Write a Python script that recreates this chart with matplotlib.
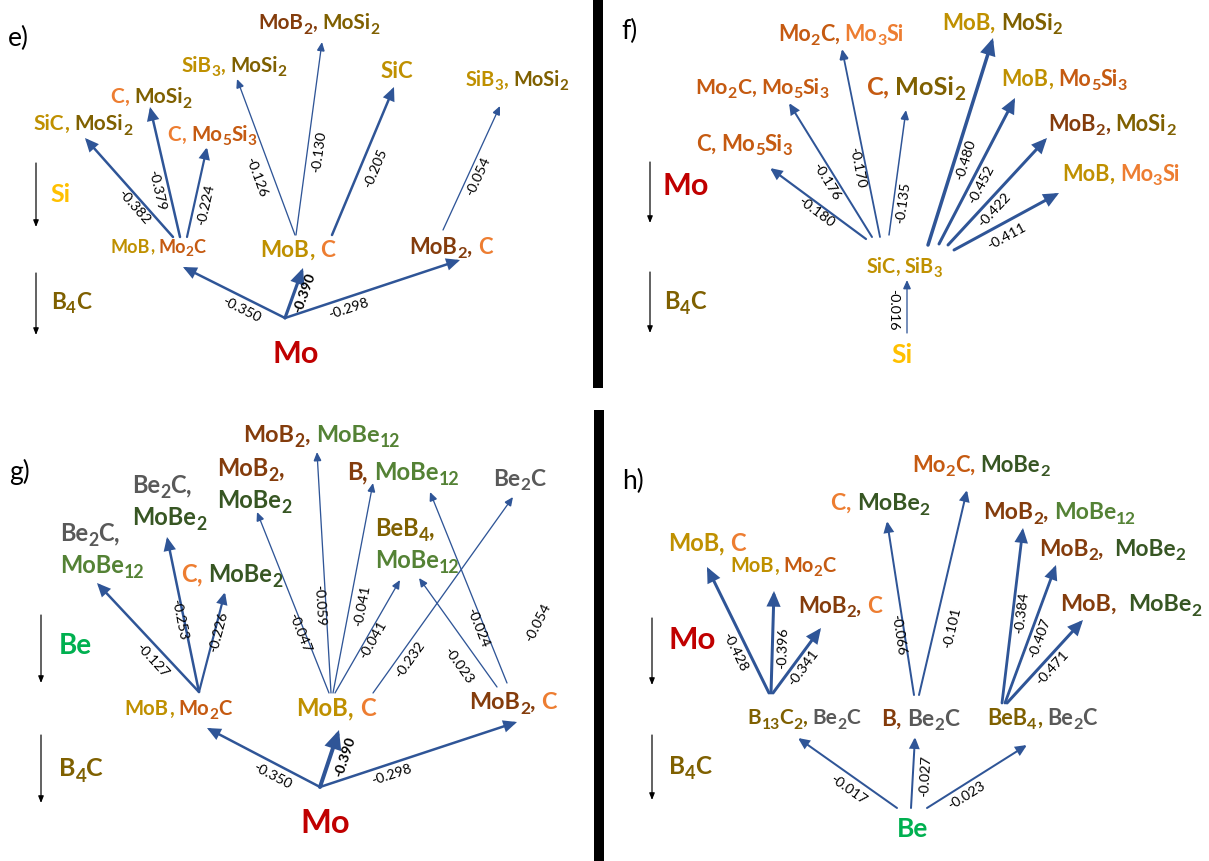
import re
import math
import matplotlib
matplotlib.use("Agg")
import matplotlib.pyplot as plt
from matplotlib.patches import Rectangle
from matplotlib.font_manager import FontProperties, findfont, get_font

plt.rcParams["font.family"] = ["Lato", "DejaVu Sans"]

# ---------------- reaction energies (eV/atom) ----------------
E_DG = [-0.350, -0.390, -0.298, -0.382, -0.379, -0.224, -0.126, -0.130, -0.205, -0.054]
F_DG = [-0.016, -0.180, -0.176, -0.170, -0.135, -0.480, -0.452, -0.422, -0.411]
G_DG = [-0.350, -0.390, -0.298, -0.127, -0.253, -0.226, -0.047, -0.059, -0.041, -0.041,
        -0.232, -0.023, -0.024]
G_EXTRA_DG = [-0.054]
H_DG = [-0.017, -0.027, -0.023, -0.428, -0.396, -0.341, -0.066, -0.101, -0.384, -0.407, -0.471]

# ---------------- colours ----------------
ARROW = "#2F5597"
MO_RED = "#C00000"
SI_YEL = "#FFC000"
BE_GRN = "#00B050"
GOLD = "#BF9000"
OLIVE = "#7F6000"
ORANGE = "#ED7D31"
ORANGE_DK = "#C55A11"
BROWN = "#843C0C"
GRAY = "#595959"
GREEN = "#548235"
GREEN_DK = "#375623"

# ---------------- layout (pixel coordinates) ----------------
E_FROM = [(285, 318), (285, 318), (285, 318), (173, 237), (180, 237), (187, 237),
          (295, 235), (296, 235), (332, 235), (443, 230)]
E_TO = [(183, 267), (303, 268), (460, 260), (85, 138), (150, 107), (207, 147),
        (237, 79), (322, 42), (394, 87), (500, 106)]
E_NUM = [(241, 310), (305, 293), (349, 309), (134, 207), (157, 190), (206, 205),
         (256, 177), (319, 152), (375, 168), (478, 176)]
E_LW = [2.5, 3.2, 2.5, 2.5, 2.5, 2.2, 1.3, 1.3, 2.5, 1.3]
E_BOLD = [1]

F_FROM = [(907, 333), (866, 239), (872, 237), (880, 237), (889, 235), (928, 245),
          (939, 244), (948, 245), (954, 250)]
F_TO = [(907, 280), (770, 168), (789, 103), (842, 49), (906, 110), (993, 38),
        (1015, 98), (1047, 138), (1059, 193)]
F_NUM = [(893, 310), (816, 212), (826, 182), (857, 168), (903, 203), (966, 160),
         (981, 185), (994, 210), (1007, 236)]
F_LW = [1.3, 2.2, 2.0, 1.8, 1.5, 3.5, 3.0, 3.0, 3.0]

G_FROM = [(320, 787), (320, 787), (320, 787), (199, 692), (199, 692), (199, 692),
          (329, 693), (331, 693), (333, 693), (335, 693), (373, 693), (497, 687), (507, 683)]
G_TO = [(207, 728), (339, 730), (517, 722), (97, 583), (167, 537), (225, 592),
        (257, 512), (317, 452), (373, 483), (400, 580), (513, 497), (419, 578), (430, 492)]
G_NUM = [(272, 776), (345, 757), (392, 775), (152, 660), (179, 620), (218, 632),
         (300, 633), (319, 605), (362, 606), (373, 640), (410, 660), (458, 665), (478, 628)]
G_LW = [2.5, 4.0, 2.5, 2.5, 2.5, 2.2, 1.3, 1.3, 1.3, 1.3, 1.3, 1.3, 1.3]
G_BOLD = [1]
G_EXTRA_NUM = [(538, 623)]
G_EXTRA_ROT = [63]

H_FROM = [(897, 808), (911, 808), (927, 808), (769, 693), (771, 693), (773, 693),
          (914, 695), (919, 695), (1002, 703), (1005, 703), (1007, 703)]
H_TO = [(798, 738), (915, 737), (1027, 745), (707, 567), (774, 591), (821, 628),
        (887, 521), (967, 490), (1023, 528), (1056, 565), (1083, 620)]
H_NUM = [(848, 790), (925, 776), (966, 796), (735, 652), (783, 648), (803, 668),
         (898, 635), (952, 628), (1022, 613), (1040, 638), (1052, 668)]
H_LW = [2.0, 2.0, 2.0, 3.0, 3.0, 3.0, 2.0, 2.0, 2.8, 2.8, 3.0]

# phase labels: (x, y, font size, lines of (formula, colour), left aligned?, gap width)
SPECIES = [
    # panel e
    (158, 248, 13.0, [[("MoB", GOLD), ("Mo2C", ORANGE_DK)]], False, 1),
    (298, 251, 16.2, [[("MoB", GOLD), ("C", ORANGE)]], False, 1),
    (451, 248, 15.8, [[("MoB2", BROWN), ("C", ORANGE)]], False, 1),
    (83, 125, 15.0, [[("SiC", GOLD), ("MoSi2", OLIVE)]], False, 1),
    (151, 98, 15.0, [[("C", ORANGE), ("MoSi2", OLIVE)]], False, 1),
    (212, 136, 14.8, [[("C", ORANGE), ("Mo5Si3", ORANGE_DK)]], False, 1),
    (234, 67, 14.8, [[("SiB3", GOLD), ("MoSi2", OLIVE)]], False, 1),
    (319, 24, 14.9, [[("MoB2", BROWN), ("MoSi2", OLIVE)]], False, 1),
    (397, 72, 16, [[("SiC", GOLD)]], False, 1),
    (517, 81, 14.4, [[("SiB3", GOLD), ("MoSi2", OLIVE)]], False, 1),
    # panel f
    (904, 268, 14.2, [[("SiC", GOLD), ("SiB3", GOLD)]], False, 1),
    (744, 145, 16.0, [[("C", ORANGE_DK), ("Mo5Si3", ORANGE_DK)]], False, 1),
    (762, 88, 15.3, [[("Mo2C", ORANGE_DK), ("Mo5Si3", ORANGE_DK)]], False, 1),
    (841, 35, 15.5, [[("Mo2C", ORANGE_DK), ("Mo3Si", ORANGE)]], False, 1),
    (916, 88, 18.3, [[("C", ORANGE_DK), ("MoSi2", OLIVE)]], False, 1),
    (1002, 24, 16.0, [[("MoB", GOLD), ("MoSi2", OLIVE)]], False, 1),
    (1064, 80, 15.5, [[("MoB", GOLD), ("Mo5Si3", ORANGE_DK)]], False, 1),
    (1112, 125, 15.7, [[("MoB2", BROWN), ("MoSi2", OLIVE)]], False, 1),
    (1121, 175, 15.7, [[("MoB", GOLD), ("Mo3Si", ORANGE)]], False, 1),
    # panel g
    (178, 710, 14.6, [[("MoB", GOLD), ("Mo2C", ORANGE_DK)]], False, 1),
    (336, 710, 17.2, [[("MoB", GOLD), ("C", ORANGE)]], False, 1),
    (513, 703, 16.8, [[("MoB2", BROWN), ("C", ORANGE)]], False, 1),
    (60, 551, 17.0, [[("Be2C", GRAY)], [("MoBe12", GREEN)]], True, 1),
    (132, 503, 17.0, [[("Be2C", GRAY)], [("MoBe2", GREEN_DK)]], True, 1),
    (232, 576, 17.0, [[("C", ORANGE), ("MoBe2", GREEN_DK)]], False, 1),
    (217, 486, 17.0, [[("MoB2", BROWN)], [("MoBe2", GREEN_DK)]], True, 1),
    (322, 436, 16.9, [[("MoB2", BROWN), ("MoBe12", GREEN)]], False, 1),
    (403, 474, 17.2, [[("B", BROWN), ("MoBe12", GREEN)]], False, 1),
    (375, 546, 17.0, [[("BeB4", OLIVE)], [("MoBe12", GREEN)]], True, 1),
    (519, 480, 16.4, [[("Be2C", GRAY)]], False, 1),
    # panel h
    (804, 719, 15.0, [[("B13C2", OLIVE), ("Be2C", GRAY)]], False, 1),
    (920, 720, 16.3, [[("B", BROWN), ("Be2C", GRAY)]], False, 1),
    (1042, 719, 15.6, [[("BeB4", OLIVE), ("Be2C", GRAY)]], False, 1),
    (707, 545, 17, [[("MoB", GOLD), ("C", ORANGE)]], False, 1),
    (783, 567, 14.4, [[("MoB", GOLD), ("Mo2C", ORANGE_DK)]], False, 1),
    (840, 607, 16.1, [[("MoB2", BROWN), ("C", ORANGE)]], False, 1),
    (880, 504, 16.7, [[("C", ORANGE), ("MoBe2", GREEN_DK)]], False, 1),
    (981, 466, 15.8, [[("Mo2C", ORANGE_DK), ("MoBe2", GREEN_DK)]], False, 1),
    (1060, 513, 16.5, [[("MoB2", BROWN), ("MoBe12", GREEN)]], False, 1),
    (1112, 550, 16.3, [[("MoB2", BROWN), ("MoBe2", GREEN_DK)]], False, 2),
    (1131, 605, 16.8, [[("MoB", BROWN), ("MoBe2", GREEN_DK)]], False, 2),
]

# starting elements and side reactant arrows
ELEMENTS = [("Mo", 296, 355, 22, MO_RED), ("Si", 902, 356, 19, SI_YEL),
            ("Mo", 325, 825, 23.5, MO_RED), ("Be", 913, 830, 19, BE_GRN)]
SIDE = [  # (label, colour, label x, label y, size, arrow x, arrow top, arrow bottom)
    ("Si", SI_YEL, 61, 195, 18, 36, 163, 227),
    ("B4C", OLIVE, 71, 303, 16.3, 36, 273, 335),
    ("Mo", MO_RED, 686, 187, 22, 650, 162, 223),
    ("B4C", OLIVE, 685, 303, 17, 650, 272, 333),
    ("Be", BE_GRN, 75, 647, 20, 41, 615, 683),
    ("B4C", OLIVE, 81, 770, 18, 41, 735, 803),
    ("Mo", MO_RED, 692, 641, 22.5, 652, 618, 685),
    ("B4C", OLIVE, 690, 768, 17.5, 652, 735, 800),
]
PANEL_TAGS = [("e)", 18, 38), ("f)", 630, 31), ("g)", 20, 472), ("h)", 633, 481)]

W, H = 1209, 861
DPI = 100
PX = 72 / DPI  # points per pixel
SUB_SCALE = 0.75   # subscript size relative to the formula
SUB_DROP = 0.20    # subscript baseline shift, in em
LINE_GAP = 1.34    # baseline distance of stacked formula lines, in em

fig = plt.figure(figsize=(W / DPI, H / DPI), dpi=DPI)
ax = fig.add_axes([0, 0, 1, 1])
ax.set_xlim(0, W)
ax.set_ylim(H, 0)
ax.axis("off")

# panel separators
ax.add_patch(Rectangle((593, 0), 10, 388, color="black", lw=0))
ax.add_patch(Rectangle((594, 410), 10, H - 410, color="black", lw=0))

BOLD_FILE = findfont(FontProperties(family="Lato", weight="bold"))


def advance(s, size):
    """Horizontal advance of a bold string, in pixels."""
    font = get_font(BOLD_FILE)
    font.set_size(size, DPI)
    return sum(font.load_char(ord(c)).linearHoriAdvance / 65536 for c in s)


def split_formula(name):
    return [(m.group(0), m.group(0).isdigit()) for m in re.finditer(r"\d+|\D+", name)]


def draw_runs(x, baseline, runs, size):
    em = size / PX
    for text, col, sub in runs:
        fs = size * SUB_SCALE if sub else size
        if text.strip():
            ax.text(x, baseline + (SUB_DROP * em if sub else 0), text, ha="left",
                    va="baseline", fontsize=fs, fontweight="bold", family="Lato", color=col)
        x += advance(text, fs)


def runs_width(runs, size):
    return sum(advance(t, size * SUB_SCALE if s else size) for t, _, s in runs)


def species(x, y, size, lines, left, nspace):
    em = size / PX
    all_runs = []
    for i, line in enumerate(lines):
        runs = []
        for j, (name, col) in enumerate(line):
            if j > 0:
                runs.append((" " * nspace, col, False))
            runs += [(t, col, s) for t, s in split_formula(name)]
            if not (i == len(lines) - 1 and j == len(line) - 1):
                runs.append((",", col, False))
        all_runs.append(runs)
    n = len(all_runs)
    first_base = y + 0.26 * em - 0.5 * (n - 1) * LINE_GAP * em
    for k, runs in enumerate(all_runs):
        x0 = x if left else x - runs_width(runs, size) / 2
        draw_runs(x0, first_base + k * LINE_GAP * em, runs, size)


def arrow(p0, p1, lw_px, color=ARROW):
    ms = 6 + 2.6 * lw_px
    ax.annotate("", xy=p1, xytext=p0,
                arrowprops=dict(arrowstyle="-|>,head_length=0.55,head_width=0.25",
                                lw=lw_px * PX, color=color, shrinkA=0, shrinkB=0,
                                mutation_scale=ms, joinstyle="miter"))


def readable_angle(p0, p1):
    ang = math.degrees(math.atan2(-(p1[1] - p0[1]), p1[0] - p0[0]))
    if ang >= 90:
        ang -= 180
    elif ang < -90:
        ang += 180
    return ang


def reactions(dg, starts, ends, nums, widths, bold=()):
    for i, v in enumerate(dg):
        arrow(starts[i], ends[i], widths[i])
        ax.text(nums[i][0], nums[i][1], f"{v:.3f}", rotation=readable_angle(starts[i], ends[i]),
                rotation_mode="anchor", ha="center", va="center", fontsize=10.3,
                family="Lato", fontweight="bold" if i in bold else "normal", color="black")


reactions(E_DG, E_FROM, E_TO, E_NUM, E_LW, E_BOLD)
reactions(F_DG, F_FROM, F_TO, F_NUM, F_LW)
reactions(G_DG, G_FROM, G_TO, G_NUM, G_LW, G_BOLD)
reactions(H_DG, H_FROM, H_TO, H_NUM, H_LW)
for v, (x, y), r in zip(G_EXTRA_DG, G_EXTRA_NUM, G_EXTRA_ROT):
    ax.text(x, y, f"{v:.3f}", rotation=r, rotation_mode="anchor", ha="center",
            va="center", fontsize=10.3, family="Lato")

for sp in SPECIES:
    species(*sp)

for name, x, y, size, col in ELEMENTS:
    species(x, y, size, [[(name, col)]], False, 1)

for name, col, lx, ly, size, axx, top, bot in SIDE:
    ax.annotate("", xy=(axx, bot), xytext=(axx, top),
                arrowprops=dict(arrowstyle="-|>,head_length=0.5,head_width=0.2",
                                lw=1.2 * PX, color="black", shrinkA=0, shrinkB=0,
                                mutation_scale=8))
    species(lx, ly, size, [[(name, col)]], False, 1)

for tag, x, y in PANEL_TAGS:
    ax.text(x, y, tag, ha="center", va="center", fontsize=19, family="Lato", color="black")

fig.savefig("out.png", dpi=DPI)
